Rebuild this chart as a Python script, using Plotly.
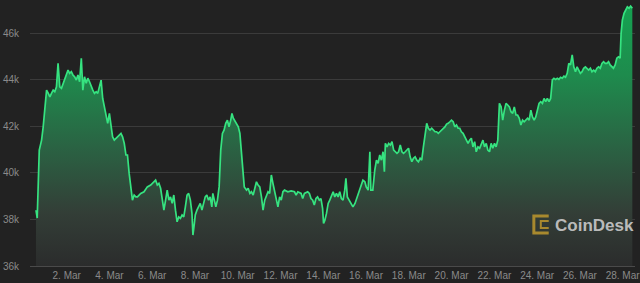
import pandas as pd
import plotly.graph_objects as go

# hours since 2022-02-28 00:00
hours = [
    13.5, 14.9, 17.2, 19.8, 21.6, 23.5, 25.4, 27.2, 29.1, 31.0,
    32.8, 34.6, 36.5, 38.3, 40.2, 42.1, 43.9, 45.8, 47.7, 49.5,
    51.3, 53.2, 55.0, 56.9, 58.8, 60.6, 62.5, 64.4, 66.1, 68.0,
    69.9, 71.7, 73.6, 75.5, 77.3, 79.2, 81.1, 82.8, 84.7, 86.6,
    88.4, 90.3, 92.2, 94.0, 95.9, 97.8, 99.5, 101.4, 103.3, 105.1,
    107.0, 108.9, 110.7, 112.6, 114.5, 116.2, 118.1, 120.0, 121.8,
    123.7, 125.6, 127.4, 131.1, 134.8, 138.5, 142.3, 146.0, 147.8, 149.7,
    151.5, 153.4, 155.2, 157.1, 159.0, 160.8, 162.7, 164.5, 166.4, 168.2,
    170.1, 171.9, 173.8, 175.6, 177.5, 179.4, 181.2, 183.1, 184.9, 186.8,
    188.6, 189.7, 191.3, 192.3, 194.2, 196.1, 197.9, 199.8, 201.6, 203.5,
    205.3, 207.2, 209.0, 210.9, 212.0, 213.5, 215.4, 217.2, 219.1, 220.9,
    222.8, 224.6, 226.5, 228.4, 230.2, 232.1, 233.5, 235.0, 236.9, 238.7,
    240.6, 242.4, 244.3, 246.2, 247.3, 249.9, 251.7, 253.6, 255.4, 257.3,
    259.1, 261.0, 262.8, 264.7, 266.6, 268.4, 270.3, 272.1, 274.0, 275.8,
    277.7, 279.5, 281.4, 283.3, 285.1, 287.0, 288.8, 290.7, 292.5, 296.2,
    299.9, 303.7, 305.5, 307.4, 311.1, 312.9, 314.8, 318.5, 320.4, 322.2,
    324.1, 325.9, 327.8, 329.6, 331.5, 333.4, 335.2, 336.3, 337.8, 339.6,
    341.5, 343.3, 345.2, 347.1, 348.9, 350.8, 352.6, 354.5, 356.3, 358.2,
    360.1, 361.4, 363.0, 364.9, 366.7, 369.3, 371.6, 374.2, 377.9, 380.5,
    382.7, 384.2, 386.4, 388.3, 389.4, 391.6, 393.8, 395.7, 397.5, 399.4,
    401.2, 403.1, 404.6, 405.7, 407.6, 409.4, 411.3, 413.1, 415.0, 416.8,
    418.7, 420.5, 422.4, 424.3, 426.1, 428.0, 429.8, 431.7, 433.5, 435.4,
    437.2, 439.1, 441.0, 442.8, 444.7, 446.5, 448.4, 450.2, 452.1, 453.9,
    455.8, 457.7, 459.5, 461.4, 463.2, 465.1, 466.9, 468.8, 470.6, 472.5,
    474.4, 476.2, 478.1, 479.9, 481.8, 483.6, 485.5, 487.3, 489.2, 491.0,
    492.9, 494.8, 496.6, 498.5, 500.3, 502.2, 504.0, 505.9, 507.7, 509.6,
    511.5, 513.3, 515.2, 517.0, 518.9, 520.7, 522.6, 524.4, 526.3, 528.2,
    530.0, 531.9, 533.7, 535.6, 537.4, 539.3, 541.1, 543.0, 544.9, 546.7,
    548.6, 550.4, 552.3, 554.1, 556.0, 557.8, 559.7, 561.5, 563.4, 565.3,
    567.1, 569.0, 570.8, 572.7, 574.5, 576.4, 578.2, 580.1, 582.0, 583.8,
    585.7, 587.5, 589.4, 591.2, 593.1, 594.9, 596.8, 598.7, 600.5, 602.4,
    604.2, 606.1, 607.9, 609.8, 611.6, 613.5, 615.4, 617.2, 619.1, 620.9,
    622.8, 624.6, 626.5, 628.3, 630.2, 632.1, 633.9, 635.8, 637.6, 639.5,
    641.3, 643.2, 645.0, 646.9, 648.8, 650.6, 652.5, 654.3, 656.2, 658.0,
    659.9, 661.7, 663.6, 665.5, 667.3, 669.2, 670.3, 671.7, 673.6, 675.5,
    677.3, 679.2, 681.0, 682.9,
]

prices = [
    38400, 38060, 40980, 41410, 41980, 42840, 43560, 43430, 43270, 43430,
    43560, 43490, 43700, 44710, 43700, 43640, 43850, 44070, 44280, 44420,
    44280, 44350, 44210, 44130, 43990, 44210, 43920, 44930, 43560, 44130,
    43850, 44070, 43920, 43700, 43560, 43420, 43490, 43420, 43700, 43990,
    43200, 42840, 42560, 42130, 42560, 41980, 41550, 41410, 41490, 41550,
    41630, 41700, 41550, 41270, 40770, 40770, 39980, 39260, 38830,
    39050, 38970, 38970, 39120, 39190, 39400, 39480, 39620, 39690, 39480,
    39550, 39340, 38830, 38400, 38830, 39260, 38830, 38970, 38690, 39050,
    38400, 37900, 38110, 38050, 38190, 38110, 38540, 39050, 39120, 38830,
    38260, 37330, 37830, 38190, 38400, 38540, 38690, 38400, 38690, 38970,
    39050, 38830, 38970, 38540, 39120, 38830, 38540, 38830, 39400, 40980,
    41700, 41840, 42130, 42270, 41980, 42270, 42560, 42350, 42200, 42130,
    41980, 41700, 40880, 40120, 39400, 39260, 39340, 39120, 39190, 39050,
    39340, 39620, 39480, 39400, 38970, 38400, 38830, 38970, 39190, 39120,
    39910, 39550, 39190, 38830, 38540, 38970, 38830, 39190, 39260, 39190,
    39230, 39190, 39050, 39190, 39120, 38900, 39120, 39190, 39120, 38900,
    38830, 38620, 38900, 38970, 38830, 38900, 38480, 37830, 37970, 38260,
    38690, 38830, 39050, 39190, 38970, 39120, 38970, 39190, 38900, 38830,
    39260, 39770, 38970, 38830, 38690, 38540, 38690, 38970, 39340, 39690,
    39620, 39400, 39260, 40910, 39260, 39260, 40120, 40550, 40410, 40770,
    40550, 40910, 40050, 41270, 41120, 41270, 41200, 41340, 40980, 40910,
    40840, 40910, 41200, 40910, 40840, 40910, 40980, 41060, 40690, 40480,
    40630, 40690, 40550, 40480, 40630, 40550, 41120, 41700, 42130, 41920,
    41840, 41920, 41840, 41770, 41770, 41700, 41770, 41840, 41920, 41980,
    42100, 42130, 42200, 42270, 42200, 41980, 42060, 41920, 41920, 41770,
    41700, 41550, 41410, 41270, 41410, 41490, 41120, 41340, 40910, 41120,
    41060, 41270, 41410, 41120, 41270, 40980, 40910, 41270, 41060, 41270,
    41120, 41410, 42990, 42840, 42270, 42700, 42990, 42920, 42840, 42630,
    42560, 42840, 42490, 42490, 42350, 42060, 42270, 42200, 42270, 42350,
    42270, 42700, 42410, 42270, 42410, 42780, 42990, 43060, 42990, 43200,
    43060, 43200, 43060, 43200, 44000, 44070, 44020, 44070, 44020, 44110,
    44070, 44160, 44110, 44280, 44710, 44640, 45070, 44560, 44350, 44560,
    44420, 44280, 44350, 44500, 44560, 44500, 44420, 44500, 44350, 44420,
    44350, 44500, 44560, 44500, 44710, 44780, 44710, 44710, 44780, 44640,
    44560, 44500, 44640, 44930, 44990, 44930, 46000, 46570, 46860, 47000,
    47140, 47080, 47170, 47080,
]

tick_days = [2, 4, 6, 8, 10, 12, 14, 16, 18, 20, 22, 24, 26, 28]
tick_labels = [f"{d}. Mar" for d in tick_days]
y_ticks = [36000, 38000, 40000, 42000, 44000, 46000]
y_labels = ["36k", "38k", "40k", "42k", "44k", "46k"]

assert len(hours) == len(prices)

base = pd.Timestamp("2022-02-28")
times = base + pd.to_timedelta(hours, unit="h")
tick_dates = [pd.Timestamp(2022, 3, d) for d in tick_days]

fig = go.Figure()
fig.add_trace(go.Scatter(
    x=times, y=prices, mode="lines",
    line=dict(color="#36e380", width=1.7),
    fill="tozeroy",
    fillgradient=dict(
        type="vertical", start=36000, stop=47400,
        colorscale=[[0, "#2b2c2c"], [0.2, "#333e37"], [0.45, "#2a6343"],
                    [0.72, "#1e8b4d"], [1, "#14a451"]],
    ),
    hoverinfo="skip", showlegend=False,
))

bg = "#222222"
fig.update_layout(
    width=640, height=283,
    margin=dict(l=30, r=0, t=0, b=17),
    paper_bgcolor=bg, plot_bgcolor=bg,
    font=dict(family="Liberation Sans, Arial, sans-serif", size=10, color="#8a8a8a"),
    xaxis=dict(
        range=[base + pd.Timedelta(hours=6.8), base + pd.Timedelta(hours=685.9)],
        tickvals=tick_dates, ticktext=tick_labels,
        showgrid=False, zeroline=False, showline=True, linecolor="#4a4a4a", linewidth=1,
        ticks="", tickfont=dict(size=10, color="#8a8a8a"),
        ticklabeloverflow="allow",
    ),
    yaxis=dict(
        range=[36000, 47432],
        tickvals=y_ticks, ticktext=y_labels,
        showgrid=True, gridcolor="#3b3b3b", gridwidth=1, zeroline=False,
        ticks="", tickfont=dict(size=10, color="#8a8a8a"),
        ticklabelstandoff=10,
    ),
    shapes=[
        dict(type="path", xref="paper", yref="paper",
             path="M 0.8574 0.188 L 0.8328 0.188 L 0.8328 0.124 L 0.8574 0.124",
             line=dict(color="#a8892e", width=3)),
        dict(type="path", xref="paper", yref="paper",
             path="M 0.8574 0.169 L 0.8443 0.169 L 0.8443 0.143 L 0.8574 0.143",
             line=dict(color="#a8892e", width=2)),
    ],
    annotations=[
        dict(text="<b>CoinDesk</b>", xref="paper", yref="paper",
             x=0.864, y=0.154, xanchor="left", yanchor="middle", showarrow=False,
             font=dict(family="Liberation Sans, Arial, sans-serif", size=17,
                       color="rgba(205,205,205,0.9)")),
    ],
)

fig.write_html("out.html")
